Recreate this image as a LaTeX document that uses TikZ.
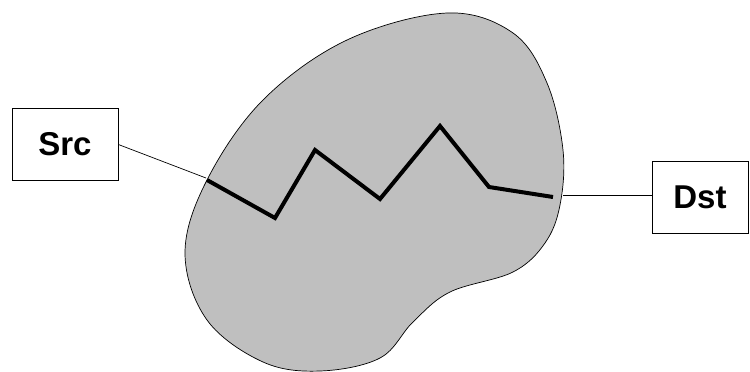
\documentclass[tikz,border=0pt]{standalone}
\usepackage{fontspec}
\setmainfont{Liberation Sans}
\definecolor{blobgray}{RGB}{191,191,191}
\begin{document}
\begin{tikzpicture}[x=1pt,y=-1pt,
  box/.style={draw, line width=0.8pt, fill=white, minimum width=#1, minimum height=72pt, inner sep=0pt, font=\fontsize{33}{36}\selectfont\bfseries},
  thin/.style={line width=0.7pt},
  route/.style={line width=4pt, line join=miter}]
\useasboundingbox (0,0) rectangle (750,372);
% blob
\draw[thin, fill=blobgray] plot[smooth cycle, tension=0.6] coordinates {
 (447,13) (513,33) (547,83) (563,150) (560,205) (545,243) (513,272) (450,292)
 (413,322) (380,358) (320,371) (263,362) (207,320) (185,253) (207,180) (263,100) (347,40)};
% nodes
\node[box=106pt] (src) at (65,144.5) {Src};
\node[box=96pt] (dst) at (700,197.5) {Dst};
\coordinate (sin) at (206,178);
\coordinate (din) at (563,195);
\draw[thin] (src.east) -- (sin);
\draw[thin] (din -| dst.west) -- (din);
% zigzag route
\coordinate (z1) at (207,180);
\coordinate (z2) at (275,218);
\coordinate (z3) at (315,150);
\coordinate (z4) at (380,199);
\coordinate (z5) at (440,126);
\coordinate (z6) at (489,187);
\coordinate (z7) at (553,197);
\draw[route] (z1) -- (z2) -- (z3) -- (z4) -- (z5) -- (z6) -- (z7);
\end{tikzpicture}
\end{document}
